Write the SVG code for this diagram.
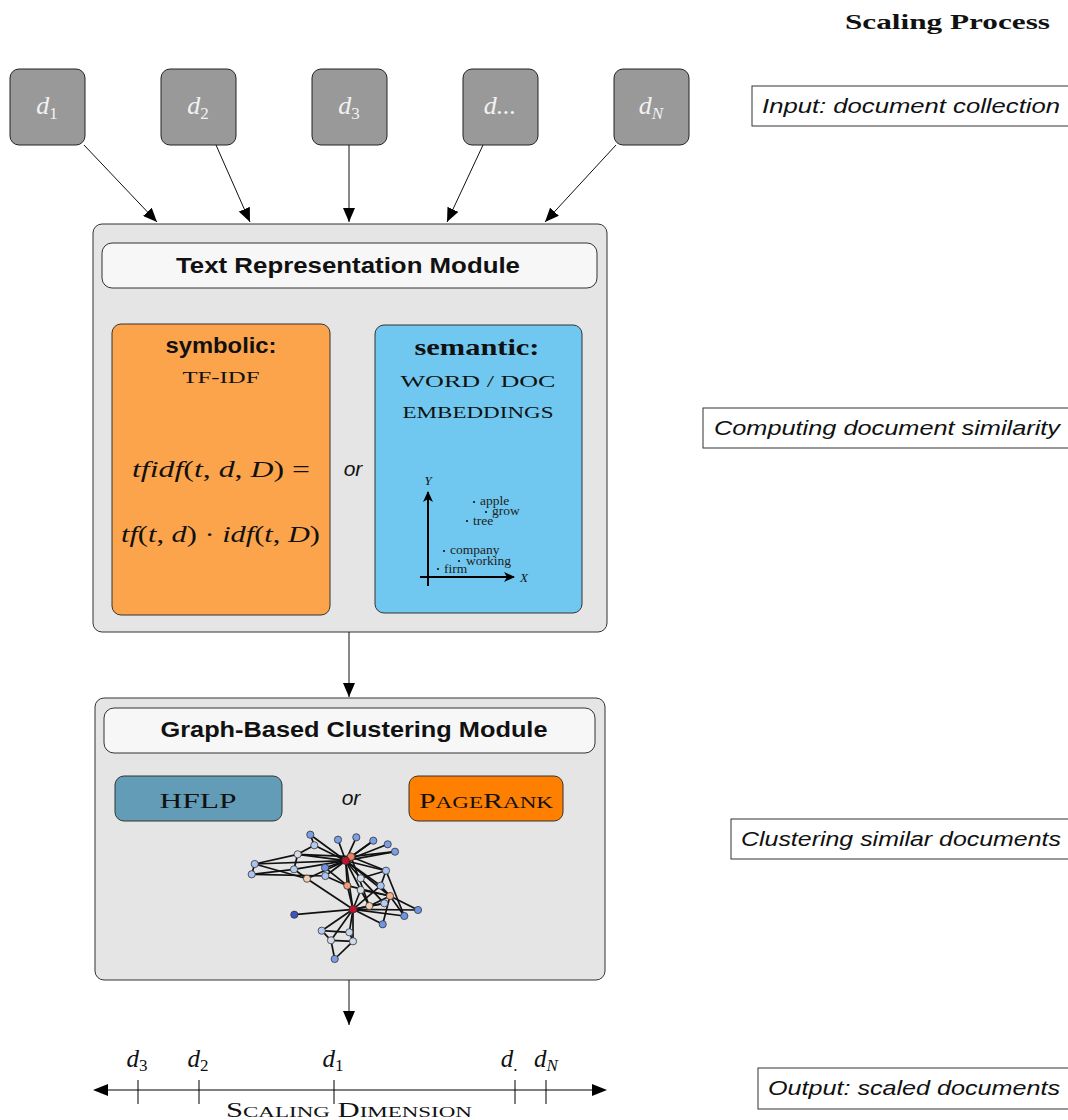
<svg xmlns="http://www.w3.org/2000/svg" width="1068" height="1120" viewBox="0 0 1068 1120">
<style>
.doc{fill:#999;stroke:#222;stroke-width:1}
.doct{font-family:"Liberation Serif",serif;font-style:italic;font-size:26px;fill:#f2f2f2;text-anchor:middle}
.sub{font-size:17px;font-style:normal}
.subi{font-size:17px;font-style:italic}
.mod{fill:#e5e5e5;stroke:#333;stroke-width:1}
.title{fill:#f7f7f7;stroke:#333;stroke-width:1}
.tt{font-family:"Liberation Sans",sans-serif;font-weight:bold;font-size:22px;fill:#111;text-anchor:middle}
.serif{font-family:"Liberation Serif",serif;fill:#111;text-anchor:middle}
.it{font-family:"Liberation Serif",serif;font-style:italic;fill:#111}
.or{font-family:"Liberation Sans",sans-serif;font-style:italic;font-size:21px;fill:#111;text-anchor:middle}
.lab{fill:#fff;stroke:#333;stroke-width:1}
.labt{font-family:"Liberation Sans",sans-serif;font-style:italic;font-size:21px;fill:#111}
.conn{stroke:#111;stroke-width:1;fill:none}
.e{stroke:#111;stroke-width:1.7}
.n{stroke:#333;stroke-width:0.8}
.word{font-family:"Liberation Serif",serif;font-size:13.5px;fill:#222}
</style>
<defs>
<marker id="ah" markerWidth="14" markerHeight="12" refX="14" refY="6" orient="auto" markerUnits="userSpaceOnUse">
<path d="M0,0 L14,6 L0,12 Z" fill="#000"/>
</marker>
<marker id="ahs" markerWidth="11" markerHeight="10" refX="10" refY="5" orient="auto" markerUnits="userSpaceOnUse">
<path d="M0,0 L11,5 L0,10 L3,5 Z" fill="#000"/>
</marker>
</defs>

<text x="1050" y="29" font-family="Liberation Serif,serif" font-weight="bold" font-size="22" text-anchor="end" fill="#111" textLength="205" lengthAdjust="spacingAndGlyphs">Scaling Process</text>

<g id="doc1"><rect class="doc" x="10" y="69" width="75" height="76" rx="9"/><text class="doct" x="47" y="114">d<tspan class="sub" dy="5">1</tspan></text></g>
<g id="doc2"><rect class="doc" x="161" y="69" width="75" height="76" rx="9"/><text class="doct" x="198" y="114">d<tspan class="sub" dy="5">2</tspan></text></g>
<g id="doc3"><rect class="doc" x="312" y="69" width="75" height="76" rx="9"/><text class="doct" x="349" y="114">d<tspan class="sub" dy="5">3</tspan></text></g>
<g id="docdots"><rect class="doc" x="463" y="69" width="75" height="76" rx="9"/><text class="doct" x="500" y="114">d...</text></g>
<g id="docN"><rect class="doc" x="614" y="69" width="75" height="76" rx="9"/><text class="doct" x="651" y="114">d<tspan class="subi" dy="5">N</tspan></text></g>

<g id="labels">
<g id="lab-input"><rect class="lab" x="752" y="86" width="320" height="40"/><text class="labt" x="762" y="113" textLength="298" lengthAdjust="spacingAndGlyphs">Input: document collection</text></g>
<g id="lab-sim"><rect class="lab" x="703" y="408" width="369" height="40"/><text class="labt" x="714" y="435" textLength="346" lengthAdjust="spacingAndGlyphs">Computing document similarity</text></g>
<g id="lab-clu"><rect class="lab" x="731" y="819" width="341" height="40"/><text class="labt" x="741" y="846" textLength="320" lengthAdjust="spacingAndGlyphs">Clustering similar documents</text></g>
<g id="lab-out"><rect class="lab" x="758" y="1068" width="314" height="41"/><text class="labt" x="768" y="1095" textLength="292" lengthAdjust="spacingAndGlyphs">Output: scaled documents</text></g>
</g>

<g id="trm">
<rect class="mod" x="93" y="224" width="514" height="408" rx="9"/>
<rect class="title" x="102" y="243" width="495" height="45" rx="10"/>
<text class="tt" x="348" y="273" textLength="344" lengthAdjust="spacingAndGlyphs">Text Representation Module</text>
</g>

<g id="symbolic">
<rect x="112" y="324" width="218" height="291" rx="9" fill="#fca44c" stroke="#333"/>
<text x="221" y="353" font-family="Liberation Sans,sans-serif" font-weight="bold" font-size="22" text-anchor="middle" fill="#111" textLength="111" lengthAdjust="spacingAndGlyphs">symbolic:</text>
<text class="serif" x="221" y="383" font-size="17" textLength="77" lengthAdjust="spacingAndGlyphs">TF-IDF</text>
<text class="it" x="132" y="477" font-size="24" textLength="178" lengthAdjust="spacingAndGlyphs">tfidf<tspan font-style="normal">(</tspan>t<tspan font-style="normal">, </tspan>d<tspan font-style="normal">, </tspan>D<tspan font-style="normal">) =</tspan></text>
<text class="it" x="121" y="542" font-size="24" textLength="199" lengthAdjust="spacingAndGlyphs">tf<tspan font-style="normal">(</tspan>t<tspan font-style="normal">, </tspan>d<tspan font-style="normal">) · </tspan>idf<tspan font-style="normal">(</tspan>t<tspan font-style="normal">, </tspan>D<tspan font-style="normal">)</tspan></text>
</g>

<text class="or" x="353" y="476">or</text>

<g id="semantic">
<rect x="375" y="325" width="207" height="288" rx="9" fill="#70c8f0" stroke="#333"/>
<text class="serif" x="477" y="355" font-size="24" font-weight="bold" textLength="125" lengthAdjust="spacingAndGlyphs">semantic:</text>
<text class="serif" x="478" y="387" font-size="17" textLength="155" lengthAdjust="spacingAndGlyphs">WORD / DOC</text>
<text class="serif" x="478" y="418" font-size="17" textLength="151" lengthAdjust="spacingAndGlyphs">EMBEDDINGS</text>
<line x1="428" y1="586" x2="428" y2="492" stroke="#000" stroke-width="2" marker-end="url(#ahs)"/>
<line x1="420" y1="577" x2="514" y2="577" stroke="#000" stroke-width="2" marker-end="url(#ahs)"/>
<text class="it" x="428" y="485" font-size="13" text-anchor="middle">Y</text>
<text class="it" x="520" y="582" font-size="13">X</text>
<g fill="#111">
<circle cx="474" cy="502" r="1.1"/><circle cx="486" cy="512" r="1.1"/><circle cx="467" cy="521" r="1.1"/>
<circle cx="444" cy="551" r="1.1"/><circle cx="459" cy="561" r="1.1"/><circle cx="438" cy="569" r="1.1"/>
</g>
<text class="word" x="480" y="505">apple</text>
<text class="word" x="492" y="515">grow</text>
<text class="word" x="473" y="525">tree</text>
<text class="word" x="450" y="554">company</text>
<text class="word" x="466" y="565">working</text>
<text class="word" x="444" y="573">firm</text>
</g>

<g id="gbc">
<rect class="mod" x="95" y="698" width="510" height="282" rx="9"/>
<rect class="title" x="104" y="708" width="491" height="45" rx="10"/>
<text class="tt" x="354" y="737" textLength="387" lengthAdjust="spacingAndGlyphs">Graph-Based Clustering Module</text>
</g>

<g id="hflp">
<rect x="115" y="776" width="167" height="45" rx="9" fill="#629cb7" stroke="#333"/>
<text class="serif" x="198" y="808" font-size="22" textLength="77" lengthAdjust="spacingAndGlyphs">HFLP</text>
</g>
<text class="or" x="351" y="805">or</text>
<g id="pagerank">
<rect x="409" y="776" width="154" height="45" rx="9" fill="#ff7f00" stroke="#333"/>
<text class="serif" x="486" y="808" font-size="22" textLength="134" lengthAdjust="spacingAndGlyphs">P<tspan font-size="17">AGE</tspan>R<tspan font-size="17">ANK</tspan></text>
</g>

<g id="network">
<g class="e">
<line x1="345.7" y1="860.7" x2="310.3" y2="834.7"/>
<line x1="345.7" y1="860.7" x2="338" y2="839.7"/>
<line x1="345.7" y1="860.7" x2="356.3" y2="837.3"/>
<line x1="345.7" y1="860.7" x2="373.3" y2="840.7"/>
<line x1="345.7" y1="860.7" x2="387.7" y2="844.3"/>
<line x1="345.7" y1="860.7" x2="395" y2="851.7"/>
<line x1="345.7" y1="860.7" x2="314.3" y2="845.3"/>
<line x1="345.7" y1="860.7" x2="297.7" y2="854.3"/>
<line x1="345.7" y1="860.7" x2="294" y2="869.3"/>
<line x1="345.7" y1="860.7" x2="325" y2="867.7"/>
<line x1="345.7" y1="860.7" x2="325.3" y2="876"/>
<line x1="345.7" y1="860.7" x2="386" y2="870.7"/>
<line x1="345.7" y1="860.7" x2="360.7" y2="878.3"/>
<line x1="345.7" y1="860.7" x2="347.3" y2="885.7"/>
<line x1="345.7" y1="860.7" x2="360.7" y2="890"/>
<line x1="345.7" y1="860.7" x2="380.7" y2="885.7"/>
<line x1="345.7" y1="860.7" x2="390" y2="896"/>
<line x1="345.7" y1="860.7" x2="353" y2="909.3"/>
<line x1="345.7" y1="860.7" x2="307" y2="878.7"/>
<line x1="345.7" y1="860.7" x2="254.7" y2="864"/>
<line x1="351" y1="856.7" x2="373.3" y2="840.7"/>
<line x1="351" y1="856.7" x2="395" y2="851.7"/>
<line x1="351" y1="856.7" x2="386" y2="870.7"/>
<line x1="351" y1="856.7" x2="369.3" y2="906"/>
<line x1="351" y1="856.7" x2="297.7" y2="854.3"/>
<line x1="310.3" y1="834.7" x2="314.3" y2="845.3"/>
<line x1="314.3" y1="845.3" x2="297.7" y2="854.3"/>
<line x1="297.7" y1="854.3" x2="254.7" y2="864"/>
<line x1="297.7" y1="854.3" x2="294" y2="869.3"/>
<line x1="254.7" y1="864" x2="251.7" y2="874.3"/>
<line x1="254.7" y1="864" x2="307" y2="878.7"/>
<line x1="251.7" y1="874.3" x2="294" y2="869.3"/>
<line x1="251.7" y1="874.3" x2="325.3" y2="876"/>
<line x1="294" y1="869.3" x2="307" y2="878.7"/>
<line x1="307" y1="878.7" x2="353" y2="909.3"/>
<line x1="325" y1="867.7" x2="347.3" y2="885.7"/>
<line x1="325.3" y1="876" x2="347.3" y2="885.7"/>
<line x1="347.3" y1="885.7" x2="353" y2="909.3"/>
<line x1="347.3" y1="885.7" x2="390" y2="896"/>
<line x1="360.7" y1="878.3" x2="384.3" y2="903.3"/>
<line x1="360.7" y1="878.3" x2="386" y2="870.7"/>
<line x1="360.7" y1="890" x2="369.3" y2="906"/>
<line x1="360.7" y1="890" x2="390" y2="896"/>
<line x1="386" y1="870.7" x2="380.7" y2="885.7"/>
<line x1="386" y1="870.7" x2="404.3" y2="916"/>
<line x1="380.7" y1="885.7" x2="390" y2="896"/>
<line x1="390" y1="896" x2="369.3" y2="906"/>
<line x1="390" y1="896" x2="418" y2="910"/>
<line x1="390" y1="896" x2="382.7" y2="924.3"/>
<line x1="390" y1="896" x2="404.3" y2="916"/>
<line x1="369.3" y1="906" x2="384.3" y2="903.3"/>
<line x1="353" y1="909.3" x2="294.3" y2="914.7"/>
<line x1="353" y1="909.3" x2="418" y2="910"/>
<line x1="353" y1="909.3" x2="404.3" y2="916"/>
<line x1="353" y1="909.3" x2="382.7" y2="924.3"/>
<line x1="353" y1="909.3" x2="321.7" y2="930.7"/>
<line x1="353" y1="909.3" x2="349.3" y2="932.3"/>
<line x1="353" y1="909.3" x2="331" y2="940.3"/>
<line x1="353" y1="909.3" x2="353" y2="941.3"/>
<line x1="353" y1="909.3" x2="369.3" y2="906"/>
<line x1="353" y1="909.3" x2="384.3" y2="903.3"/>
<line x1="353" y1="909.3" x2="380.7" y2="885.7"/>
<line x1="353" y1="909.3" x2="360.7" y2="890"/>
<line x1="321.7" y1="930.7" x2="349.3" y2="932.3"/>
<line x1="321.7" y1="930.7" x2="331" y2="940.3"/>
<line x1="331" y1="940.3" x2="353" y2="941.3"/>
<line x1="331" y1="940.3" x2="334.7" y2="959"/>
<line x1="353" y1="941.3" x2="334.7" y2="959"/>
<line x1="349.3" y1="932.3" x2="353" y2="941.3"/>
</g>
<g class="n">
<circle cx="310.3" cy="834.7" r="3.6" fill="#7a9ee8"/>
<circle cx="338" cy="839.7" r="3.6" fill="#7a9ee8"/>
<circle cx="356.3" cy="837.3" r="3.6" fill="#7a9ee8"/>
<circle cx="373.3" cy="840.7" r="3.6" fill="#7a9ee8"/>
<circle cx="387.7" cy="844.3" r="3.6" fill="#7a9ee8"/>
<circle cx="395" cy="851.7" r="3.6" fill="#7a9ee8"/>
<circle cx="314.3" cy="845.3" r="3.6" fill="#b5cbf0"/>
<circle cx="297.7" cy="854.3" r="3.6" fill="#d8dce6"/>
<circle cx="254.7" cy="864" r="3.6" fill="#a9c3f3"/>
<circle cx="251.7" cy="874.3" r="3.6" fill="#a9c3f3"/>
<circle cx="294" cy="869.3" r="3.6" fill="#b5cbf0"/>
<circle cx="325" cy="867.7" r="3.6" fill="#6e95e4"/>
<circle cx="325.3" cy="876" r="3.6" fill="#a9c3f3"/>
<circle cx="307" cy="878.7" r="3.6" fill="#f4cfb4"/>
<circle cx="386" cy="870.7" r="3.6" fill="#a9c3f3"/>
<circle cx="360.7" cy="878.3" r="3.6" fill="#d3dbea"/>
<circle cx="347.3" cy="885.7" r="3.6" fill="#f39a77"/>
<circle cx="360.7" cy="890" r="3.6" fill="#d3dbea"/>
<circle cx="380.7" cy="885.7" r="3.6" fill="#a9c3f3"/>
<circle cx="390" cy="896" r="3.6" fill="#f6b08e"/>
<circle cx="369.3" cy="906" r="3.6" fill="#f4cfb4"/>
<circle cx="384.3" cy="903.3" r="3.6" fill="#b5cbf0"/>
<circle cx="418" cy="910" r="3.6" fill="#6e95e4"/>
<circle cx="404.3" cy="916" r="3.6" fill="#6e95e4"/>
<circle cx="294.3" cy="914.7" r="3.6" fill="#3d55c2"/>
<circle cx="382.7" cy="924.3" r="3.6" fill="#6e95e4"/>
<circle cx="321.7" cy="930.7" r="3.6" fill="#b5cbf0"/>
<circle cx="349.3" cy="932.3" r="3.6" fill="#c6d4ee"/>
<circle cx="331" cy="940.3" r="3.6" fill="#d3dbea"/>
<circle cx="353" cy="941.3" r="3.6" fill="#d3dbea"/>
<circle cx="334.7" cy="959" r="3.6" fill="#7a9ee8"/>
<circle cx="351" cy="856.7" r="3.8" fill="#f08060"/>
<circle cx="345.7" cy="860.7" r="3.8" fill="#c4102a"/>
<circle cx="353" cy="909.3" r="3.8" fill="#c4102a"/>
</g>
</g>

<g id="scale">
<line x1="108" y1="1090" x2="592" y2="1090" stroke="#000" stroke-width="1"/>
<path d="M93,1090 L108,1084 L108,1096 Z" fill="#000"/>
<path d="M607,1090 L592,1084 L592,1096 Z" fill="#000"/>
<g stroke="#000" stroke-width="1">
<line x1="138" y1="1080" x2="138" y2="1104"/>
<line x1="199" y1="1080" x2="199" y2="1104"/>
<line x1="334" y1="1080" x2="334" y2="1104"/>
<line x1="515" y1="1080" x2="515" y2="1104"/>
<line x1="546" y1="1080" x2="546" y2="1104"/>
</g>
<g class="it" font-size="25" text-anchor="middle">
<text x="137" y="1067">d<tspan font-style="normal" font-size="17" dy="4">3</tspan></text>
<text x="198" y="1067">d<tspan font-style="normal" font-size="17" dy="4">2</tspan></text>
<text x="333" y="1067">d<tspan font-style="normal" font-size="17" dy="4">1</tspan></text>
<text x="509" y="1067">d<tspan font-style="normal" font-size="17" dy="4">.</tspan></text>
<text x="546" y="1067">d<tspan font-size="17" dy="4">N</tspan></text>
</g>
<text class="serif" x="349" y="1117" font-size="20" textLength="246" lengthAdjust="spacingAndGlyphs">S<tspan font-size="15">CALING</tspan> D<tspan font-size="15">IMENSION</tspan></text>
</g>

<g id="connectors">
<line class="conn" x1="84" y1="145" x2="157" y2="222" marker-end="url(#ah)"/>
<line class="conn" x1="216" y1="145" x2="250" y2="222" marker-end="url(#ah)"/>
<line class="conn" x1="349" y1="145" x2="349" y2="222" marker-end="url(#ah)"/>
<line class="conn" x1="483" y1="145" x2="447" y2="222" marker-end="url(#ah)"/>
<line class="conn" x1="616" y1="145" x2="545" y2="222" marker-end="url(#ah)"/>
<line class="conn" x1="349" y1="632" x2="349" y2="697" marker-end="url(#ah)"/>
<line class="conn" x1="349" y1="980" x2="349" y2="1025" marker-end="url(#ah)"/>
</g>
</svg>
